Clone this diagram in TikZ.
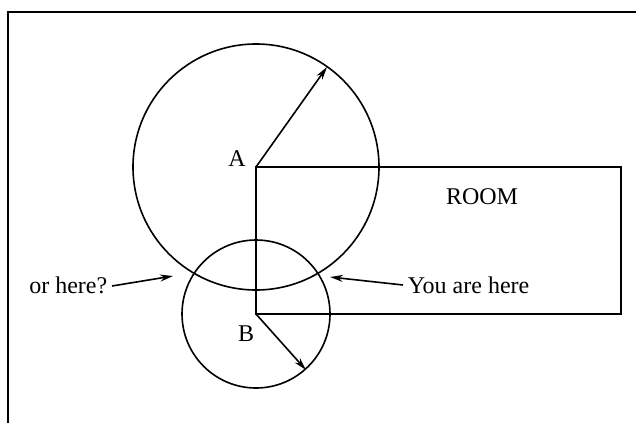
\documentclass[tikz,border=0pt]{standalone}
\usepackage{fontspec}
\setmainfont{Liberation Serif}
\usetikzlibrary{arrows.meta}
\begin{document}
\begin{tikzpicture}[x=1pt,y=-1pt,line width=1.6pt,
  lbl/.style={font=\fontsize{24}{28}\selectfont,inner sep=0pt},
  pointer/.style={-{Stealth[length=13pt,width=7pt]},line width=1.6pt}]
\useasboundingbox (0,0) rectangle (636,423);
\draw[line width=2.4pt] (8,423) -- (8,12) -- (636,12);
\coordinate (A) at (256,167);
\coordinate (B) at (256,314);
\coordinate (R) at (621,314);
\draw (A) circle (123);
\draw (B) circle (74);
\draw (A) rectangle (R);
\coordinate (Atip) at (327,67);
\coordinate (Btip) at (306,370);
\draw[pointer] (A) -- (Atip);
\draw[pointer] (B) -- (Btip);
\node[lbl] (la) at (237,159) {A};
\node[lbl] (lb) at (246,334) {B};
\node[lbl] (room) at (482,197) {ROOM};
\node[lbl,anchor=east] (orhere) at (108,285) {or here?};
\node[lbl,anchor=west] (youhere) at (407,285) {You are here};
\coordinate (ot) at (173,276);
\coordinate (yt) at (330,277);
\draw[pointer] (orhere.east) ++(4,1) coordinate (os) (os) -- (ot);
\draw[pointer] (youhere.west) ++(-4,0) coordinate (ys) (ys) -- (yt);
\end{tikzpicture}
\end{document}
